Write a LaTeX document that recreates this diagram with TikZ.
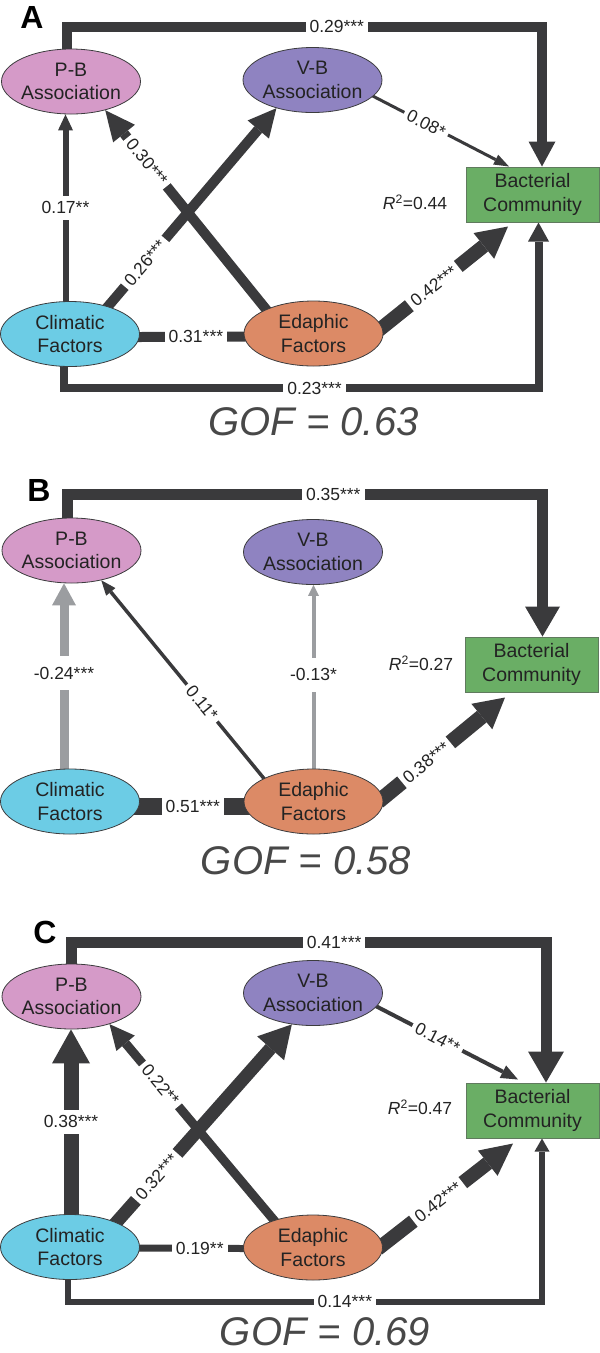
\documentclass[tikz,border=0pt]{standalone}
\usepackage{fontspec}
\setmainfont{Liberation Sans}
\usetikzlibrary{arrows.meta,shapes.geometric}

\definecolor{ink}{RGB}{58,58,60}
\definecolor{inkgray}{RGB}{155,157,160}
\definecolor{txt}{RGB}{35,35,35}
\definecolor{goftxt}{RGB}{72,72,72}
\definecolor{pbfill}{RGB}{213,154,200}
\definecolor{vbfill}{RGB}{143,131,193}
\definecolor{clfill}{RGB}{108,204,229}
\definecolor{edfill}{RGB}{220,138,102}
\definecolor{bcfill}{RGB}{106,174,101}
\definecolor{bcline}{RGB}{96,122,94}
\definecolor{outline}{RGB}{60,60,62}

\newcommand\nodefont{\fontsize{19.5}{23.5}\selectfont}
\newcommand\lblfont{\fontsize{17.5}{20}\selectfont}
\newcommand\goffont{\fontsize{40}{44}\selectfont\itshape}
\newcommand\panelfont{\fontsize{32}{36}\selectfont\bfseries}

\pgfdeclarelayer{edges}
\pgfsetlayers{edges,main}

\tikzset{
  factor/.style={ellipse, draw=outline, line width=0.8pt, minimum width=139pt,
    minimum height=65pt, inner xsep=-3pt, inner ysep=0pt, align=center,
    font=\nodefont, text=txt},
  pb/.style={factor, fill=pbfill},
  vb/.style={factor, fill=vbfill},
  cl/.style={factor, fill=clfill},
  ed/.style={factor, fill=edfill},
  commbox/.style={rectangle, draw=bcline, line width=1pt, fill=bcfill,
    minimum width=133pt, minimum height=55pt, inner sep=0pt, align=center,
    font=\nodefont, text=txt},
  wire/.style={draw=ink, line width=#1pt},
  greywire/.style={draw=inkgray, line width=#1pt},
  tipsize/.style 2 args={-{Triangle[length=#1pt,width=#2pt,line width=0pt]}},
  coef/.style={fill=white, inner xsep=4pt, inner ysep=6pt, font=\lblfont, text=txt},
  rsq/.style={font=\lblfont, text=txt},
  gof/.style={font=\goffont, text=goftxt, inner sep=0pt},
  panel/.style={font=\panelfont, text=black},
}

\begin{document}
\begin{tikzpicture}[x=1pt, y=-1pt]
\useasboundingbox (0,0) rectangle (600,1353);

% ---------------- Panel A ----------------
\node[panel] (labA) at (32,17) {A};
\node[pb] (PA) at (71,81.5) {P-B\\Association};
\node[vb] (VA) at (312.5,80) {V-B\\Association};
\node[cl] (CA) at (70,334) {Climatic\\Factors};
\node[ed] (EA) at (313.5,333.5) {Edaphic\\Factors};
\node[commbox] (BA) at (532.5,194.5) {Bacterial\\Community};
\node[rsq] (RA) at (415,202) {\textit{R}\textsuperscript{2}=0.44};
\node[gof] (GA) at (313.5,422) {GOF = 0.63};

% ---------------- Panel B ----------------
\node[panel] (labB) at (39,490) {B};
\node[pb] (PB) at (71.5,550.5) {P-B\\Association};
\node[vb] (VB) at (313,552) {V-B\\Association};
\node[cl] (CB) at (70,801.5) {Climatic\\Factors};
\node[ed] (EB) at (313.5,801.5) {Edaphic\\Factors};
\node[commbox] (BB) at (531.5,664.5) {Bacterial\\Community};
\node[rsq] (RB) at (421,663) {\textit{R}\textsuperscript{2}=0.27};
\node[gof] (GB) at (306,861) {GOF = 0.58};

% ---------------- Panel C ----------------
\node[panel] (labC) at (45,932) {C};
\node[pb] (PC) at (71.5,996.5) {P-B\\Association};
\node[vb] (VC) at (313,993) {V-B\\Association};
\node[cl] (CC) at (70,1247) {Climatic\\Factors};
\node[ed] (EC) at (313,1247.5) {Edaphic\\Factors};
\node[commbox] (BC) at (532.5,1110.5) {Bacterial\\Community};
\node[rsq] (RC) at (420,1107) {\textit{R}\textsuperscript{2}=0.47};
\node[gof] (GC) at (325,1332) {GOF = 0.69};

\begin{pgfonlayer}{edges}
% paths of panel A
\draw[wire=10, tipsize={25}{27}, shorten <=-4pt] ([xshift=-4pt]PA.north)
  |- node[coef,pos=0.784]{0.29***} ([xshift=9.5pt,yshift=140pt]BA.north)
  -- ([xshift=9.5pt]BA.north);
\draw[wire=3, tipsize={15}{11}, shorten <=-3pt] (VA.-15)
  -- node[coef,sloped,pos=0.39]{0.08*} ([xshift=-23.5pt]BA.north);
\draw[wire=6, tipsize={16}{15}, shorten <=-3pt] ([xshift=-4.5pt]CA.north)
  -- node[coef,pos=0.5]{0.17**} ([xshift=-5.5pt]PA.south);
\draw[wire=10, tipsize={30}{28}, shorten <=-5pt] (EA.153)
  -- node[coef,sloped,pos=0.74]{0.30***} (PA.-40);
\draw[wire=10, tipsize={28}{28}, shorten <=-5pt] (CA.36)
  -- node[coef,sloped,pos=0.22]{0.26***} (VA.218);
\draw[wire=10, shorten <=-7pt, shorten >=-7pt] ([yshift=-3pt]CA.east)
  -- node[coef,pos=0.54]{0.31***} ([yshift=-3pt]EA.west);
\draw[wire=14, tipsize={31}{33}, shorten <=-6pt] (EA.5)
  -- node[coef,sloped,pos=0.41]{0.42***} ([xshift=-24.5pt,yshift=-4pt]BA.south);
\draw[wire=8, tipsize={19}{21}, shorten <=-3pt] ([xshift=-6pt]CA.south)
  |- node[coef,pos=0.764]{0.23***} ([xshift=6pt,yshift=-165.5pt]BA.south)
  -- ([xshift=6pt]BA.south);

% paths of panel B
\draw[wire=11, tipsize={30}{35}, shorten <=-4pt] ([xshift=-4.5pt]PB.north)
  |- node[coef,pos=0.78]{0.35***} ([xshift=11pt,yshift=142pt]BB.north)
  -- ([xshift=11pt]BB.north);
\draw[greywire=9, tipsize={22}{24}, shorten <=-3pt] ([xshift=-6pt]CB.north)
  -- node[coef,inner ysep=11pt,pos=0.516]{-0.24***} ([xshift=-7.5pt]PB.south);
\draw[greywire=4, tipsize={11}{11}, shorten <=-3pt] (EB.north)
  -- node[coef,inner ysep=11pt,pos=0.51]{-0.13*} ([xshift=0.5pt]VB.south);
\draw[wire=3.5, tipsize={15}{12}, shorten <=-3pt] (EB.155)
  -- node[coef,sloped,pos=0.38]{0.11*} (PB.-45);
\draw[wire=17, shorten <=-9pt, shorten >=-9pt] ([yshift=-5pt]CB.east)
  -- node[coef,pos=0.51]{0.51***} ([yshift=-5pt]EB.west);
\draw[wire=15, tipsize={30}{33}, shorten <=-6pt] (EB.3)
  -- node[coef,sloped,pos=0.354]{0.38***} ([xshift=-26.5pt,yshift=-5pt]BB.south);

% paths of panel C
\draw[wire=11, tipsize={31}{36}, shorten <=-4pt] ([xshift=-0.5pt]PC.north)
  |- node[coef,pos=0.777]{0.41***} ([xshift=13.5pt,yshift=140.5pt]BC.north)
  -- ([xshift=13.5pt]BC.north);
\draw[wire=4, tipsize={17}{14}, shorten <=-3pt] (VC.-12)
  -- node[coef,sloped,pos=0.43]{0.14**} ([xshift=-14.5pt,yshift=3pt]BC.north);
\draw[wire=15, tipsize={34}{38}, shorten <=-4pt] ([xshift=1pt]CC.north)
  -- node[coef,pos=0.5]{0.38***} ([xshift=-0.5pt]PC.south);
\draw[wire=9, tipsize={25}{24}, shorten <=-5pt] (EC.145)
  -- node[coef,sloped,pos=0.69]{0.22**} (PC.-36);
\draw[wire=13, tipsize={32}{36}, shorten <=-5pt] (CC.28)
  -- node[coef,sloped,pos=0.23]{0.32***} (VC.236);
\draw[wire=7, shorten <=-6pt, shorten >=-6pt] ([yshift=-1pt]CC.east)
  -- node[coef,pos=0.58]{0.19**} ([yshift=-1pt]EC.west);
\draw[wire=14, tipsize={32}{32}, shorten <=-6pt] (EC.2)
  -- node[coef,sloped,pos=0.425]{0.42***} ([xshift=-19.5pt,yshift=-5pt]BC.south);
\draw[wire=6, tipsize={13}{15}, shorten <=-3pt] ([xshift=-2pt]CC.south)
  |- node[coef,pos=0.792]{0.14***} ([xshift=9.5pt,yshift=-163pt]BC.south)
  -- ([xshift=9.5pt]BC.south);
\end{pgfonlayer}
\end{tikzpicture}
\end{document}
